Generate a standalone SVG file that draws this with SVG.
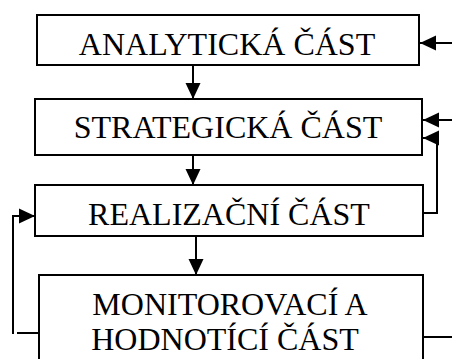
<svg xmlns="http://www.w3.org/2000/svg" width="452" height="359" viewBox="0 0 452 359">
  <defs>
    <style>
      .box { fill: #ffffff; stroke: #000000; stroke-width: 2; }
      .lbl { font-family: "Liberation Serif", "Times New Roman", serif; font-size: 32px; fill: #000000; text-anchor: middle; }
      .wire { fill: none; stroke: #000000; stroke-width: 2; }
    </style>
    <marker id="head" markerUnits="userSpaceOnUse" markerWidth="17" markerHeight="16" refX="16" refY="8" orient="auto" viewBox="0 0 17 16">
      <path d="M0,0.5 L16,8 L0,15.5 Z" fill="#000000"/>
    </marker>
  </defs>
  <rect width="452" height="359" fill="#ffffff"/>

  <g id="analyticka">
    <rect class="box" x="37" y="15" width="382" height="50"/>
    <text class="lbl" x="227" y="55">ANALYTICKÁ ČÁST</text>
  </g>

  <g id="strategicka">
    <rect class="box" x="35" y="99" width="387" height="56"/>
    <text class="lbl" x="228" y="138">STRATEGICKÁ ČÁST</text>
  </g>

  <g id="realizacni">
    <rect class="box" x="35" y="185" width="388" height="51"/>
    <text class="lbl" x="229" y="225">REALIZAČNÍ ČÁST</text>
  </g>

  <g id="monitorovaci">
    <rect class="box" x="39" y="275" width="384" height="100"/>
    <text class="lbl" x="230" y="315">MONITOROVACÍ A</text>
    <text class="lbl" x="225" y="350">HODNOTÍCÍ ČÁST</text>
  </g>

  <g id="connectors">
    <line class="wire" x1="193" y1="65" x2="193" y2="99" marker-end="url(#head)"/>
    <line class="wire" x1="193" y1="155" x2="193" y2="185" marker-end="url(#head)"/>
    <line class="wire" x1="196" y1="236" x2="196" y2="275" marker-end="url(#head)"/>
    <line class="wire" x1="452" y1="43" x2="420" y2="43" marker-end="url(#head)"/>
    <line class="wire" x1="452" y1="120" x2="423" y2="120" marker-end="url(#head)"/>
    <polyline class="wire" points="423,213 437,213 437,138 423,138" marker-end="url(#head)"/>
    <line class="wire" x1="39" y1="333" x2="17" y2="333"/>
    <polyline class="wire" points="13,334 13,216 35,216" marker-end="url(#head)"/>
    <line class="wire" x1="423" y1="337" x2="452" y2="337"/>
  </g>
</svg>
